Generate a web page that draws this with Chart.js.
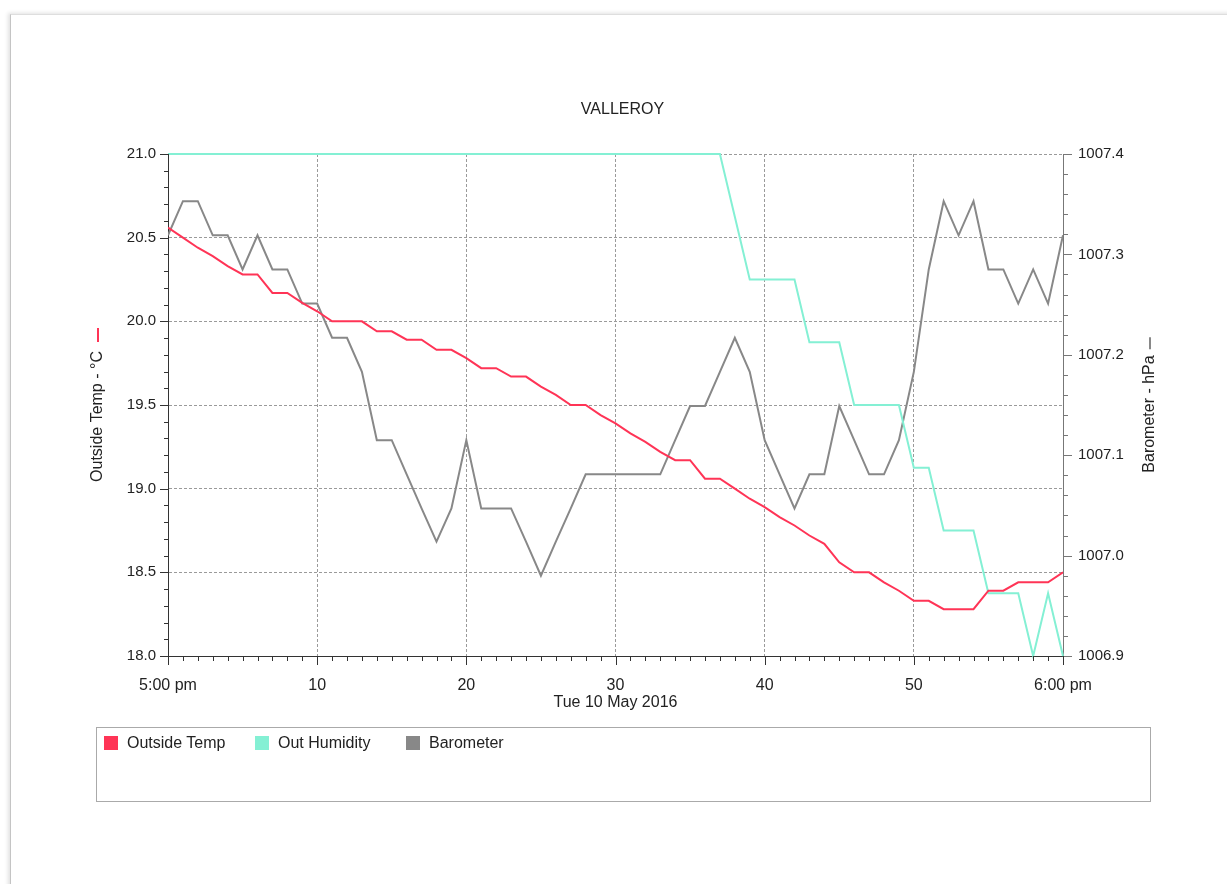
<!DOCTYPE html>
<html>
<head>
<meta charset="utf-8">
<script src="https://cdn.jsdelivr.net/npm/chart.js@4.4.0/dist/chart.umd.min.js"></script>
<style>
html,body{margin:0;padding:0;background:#fff;width:1227px;height:884px;overflow:hidden;font-family:"Liberation Sans",Arial,sans-serif;}
#frame{position:absolute;left:10px;top:14px;width:1400px;height:1000px;border-left:1px solid #c4c4c4;border-top:1px solid #dedede;box-shadow:-2px -1px 4px rgba(0,0,0,0.12);}
#c{position:absolute;left:0;top:0;}
#legend{position:absolute;left:96px;top:727px;width:1055px;height:75px;border:1px solid #aaa;box-sizing:border-box;}
.item{position:absolute;top:7px;height:16px;line-height:16px;font-size:16px;color:#222;white-space:nowrap;}
.sw{display:inline-block;width:14px;height:14px;vertical-align:top;margin-top:1px;margin-right:9px;}
</style>
</head>
<body>
<div id="frame"></div>
<canvas id="c" width="1227" height="884"></canvas>
<div id="legend"></div>
<script>
// ---- data (one point per minute, 5:00 pm -> 6:00 pm) ----
const chartTitle = 'VALLEROY';
const xTitle = 'Tue 10 May 2016';
const yTitleLeft = 'Outside Temp - \u00B0C';
const yTitleRight = 'Barometer - hPa';

const minutes = [0,1,2,3,4,5,6,7,8,9,10,11,12,13,14,15,16,17,18,19,20,21,22,23,24,25,26,27,28,29,30,
                 31,32,33,34,35,36,37,38,39,40,41,42,43,44,45,46,47,48,49,50,51,52,53,54,55,56,57,58,59,60];

const xTickValues = [0,10,20,30,40,50,60];
const xTickLabels = ['5:00 pm','10','20','30','40','50','6:00 pm'];

const seriesNames = ['Outside Temp','Out Humidity','Barometer'];
const seriesColors = ['#ff3456','#84f0d4','#888888'];

const outsideTemp = [20.56,20.50,20.44,20.39,20.33,20.28,20.28,20.17,20.17,20.11,
                     20.06,20.00,20.00,20.00,19.94,19.94,19.89,19.89,19.83,19.83,
                     19.78,19.72,19.72,19.67,19.67,19.61,19.56,19.50,19.50,19.44,
                     19.39,19.33,19.28,19.22,19.17,19.17,19.06,19.06,19.00,18.94,
                     18.89,18.83,18.78,18.72,18.67,18.56,18.50,18.50,18.44,18.39,
                     18.33,18.33,18.28,18.28,18.28,18.39,18.39,18.44,18.44,18.44,18.50];

const outHumidity = [80,80,80,80,80,80,80,80,80,80,
                     80,80,80,80,80,80,80,80,80,80,
                     80,80,80,80,80,80,80,80,80,80,
                     80,80,80,80,80,80,80,80,79,78,
                     78,78,78,77,77,77,76,76,76,76,
                     75,75,74,74,74,73,73,73,72,73,72];

const barometer = [1007.319,1007.353,1007.353,1007.319,1007.319,1007.285,1007.319,1007.285,1007.285,1007.251,
                   1007.251,1007.217,1007.217,1007.183,1007.115,1007.115,1007.081,1007.047,1007.014,1007.047,
                   1007.115,1007.047,1007.047,1007.047,1007.014,1006.980,1007.014,1007.047,1007.081,1007.081,
                   1007.081,1007.081,1007.081,1007.081,1007.115,1007.149,1007.149,1007.183,1007.217,1007.183,
                   1007.115,1007.081,1007.047,1007.081,1007.081,1007.149,1007.115,1007.081,1007.081,1007.115,
                   1007.183,1007.285,1007.353,1007.319,1007.353,1007.285,1007.285,1007.251,1007.285,1007.251,1007.319];

const toPoints = (vals) => minutes.map((m, i) => ({x: m, y: vals[i]}));

const FONT = '"Liberation Sans", Arial, sans-serif';
Chart.defaults.font.family = FONT;
Chart.defaults.color = '#222';

// minor ticks + rotated axis titles with series marker
const decor = {
  id: 'decor',
  afterDraw(chart) {
    const {ctx, chartArea: ca, scales} = chart;
    ctx.save();
    ctx.lineWidth = 1;
    const sub = (scale, n, cb) => {
      const t = scale.ticks.map(k => k.value);
      for (let i = 0; i < t.length; i++) {
        cb(t[i], true);
        if (i < t.length - 1) {
          for (let j = 1; j < n; j++) cb(t[i] + (t[i + 1] - t[i]) * j / n, false);
        }
      }
    };
    // left axis
    ctx.strokeStyle = '#333';
    sub(scales.y, 5, (v, major) => {
      const py = Math.round(scales.y.getPixelForValue(v)) + 0.5;
      const len = major ? 8 : 4;
      ctx.beginPath(); ctx.moveTo(ca.left - len, py); ctx.lineTo(ca.left + (major ? 1 : 0), py); ctx.stroke();
    });
    // right axis
    ctx.strokeStyle = '#777';
    sub(scales.y2, 5, (v, major) => {
      const py = Math.round(scales.y2.getPixelForValue(v)) + 0.5;
      const len = major ? 9 : 5;
      ctx.beginPath(); ctx.moveTo(ca.right, py); ctx.lineTo(ca.right + len, py); ctx.stroke();
    });
    // x axis
    ctx.strokeStyle = '#333';
    sub(scales.x, 10, (v, major) => {
      const px = Math.round(scales.x.getPixelForValue(v)) + 0.5;
      const len = major ? 9 : 5;
      ctx.beginPath(); ctx.moveTo(px, ca.bottom); ctx.lineTo(px, ca.bottom + len); ctx.stroke();
    });

    // rotated axis titles
    ctx.font = '16px ' + FONT;
    ctx.fillStyle = '#222';
    ctx.textAlign = 'center';
    ctx.textBaseline = 'middle';
    const midY = (ca.top + ca.bottom) / 2;
    const drawTitle = (cx, text, color, gap, dash) => {
      const w = ctx.measureText(text).width;
      const textC = midY + (gap + dash) / 2;
      ctx.save();
      ctx.translate(cx, textC);
      ctx.rotate(-Math.PI / 2);
      ctx.fillText(text, 0, 0);
      ctx.restore();
      const top = textC - w / 2 - gap;
      ctx.save();
      ctx.strokeStyle = color;
      ctx.lineWidth = 2;
      ctx.beginPath(); ctx.moveTo(cx, top); ctx.lineTo(cx, top - dash); ctx.stroke();
      ctx.restore();
    };
    drawTitle(ca.left - 70, yTitleLeft, seriesColors[0], 9, 14);
    drawTitle(ca.right + 87, yTitleRight, seriesColors[2], 6, 12);
    ctx.restore();
  }
};

const gridDash = [3, 2];

const chart = new Chart(document.getElementById('c'), {
  type: 'line',
  data: {
    datasets: [
      {label: seriesNames[0], data: toPoints(outsideTemp), borderColor: seriesColors[0], backgroundColor: seriesColors[0], yAxisID: 'y'},
      {label: seriesNames[1], data: toPoints(outHumidity), borderColor: seriesColors[1], backgroundColor: seriesColors[1], yAxisID: 'yH', clip: 3},
      {label: seriesNames[2], data: toPoints(barometer), borderColor: seriesColors[2], backgroundColor: seriesColors[2], yAxisID: 'y2'}
    ]
  },
  options: {
    responsive: false,
    animation: false,
    devicePixelRatio: 1,
    layout: {padding: {left: 82, right: 64, top: 0, bottom: 168}},
    elements: {
      line: {borderWidth: 2, tension: 0, fill: false},
      point: {radius: 0, hoverRadius: 0}
    },
    plugins: {
      legend: {display: false},
      tooltip: {enabled: false},
      title: {
        display: true, text: chartTitle, color: '#222',
        font: {size: 16, weight: 'normal'},
        padding: {top: 100.4, bottom: 34.4}
      }
    },
    scales: {
      x: {
        type: 'linear', min: 0, max: 60,
        afterFit: (s) => { s.height = 60; },
        afterBuildTicks: (s) => { s.ticks = xTickValues.map(v => ({value: v})); },
        ticks: {
          autoSkip: false, maxRotation: 0, padding: 20, color: '#222',
          font: {size: 16},
          callback: (v) => { const i = xTickValues.indexOf(v); return i >= 0 ? xTickLabels[i] : ''; }
        },
        grid: {drawTicks: false, color: (c) => (c.tick && c.tick.value === 0) ? 'rgba(0,0,0,0)' : '#9a9a9a', lineWidth: 1},
        border: {display: true, color: '#333', width: 1, dash: gridDash},
        title: {display: true, text: xTitle, color: '#222', font: {size: 16}, padding: {top: 0, bottom: 3.4}}
      },
      y: {
        type: 'linear', position: 'left', min: 18.0, max: 21.0,
        afterFit: (s) => { s.width = 86; },
        ticks: {stepSize: 0.5, padding: 12, color: '#222', font: {size: 15}, callback: (v) => Number(v).toFixed(1)},
        grid: {drawTicks: false, color: (c) => (c.tick && c.tick.value === 18) ? 'rgba(0,0,0,0)' : '#9a9a9a', lineWidth: 1},
        border: {display: true, color: '#333', width: 1, dash: gridDash},
        title: {display: false}
      },
      y2: {
        type: 'linear', position: 'right', min: 1006.9, max: 1007.4,
        afterFit: (s) => { s.width = 100; },
        ticks: {stepSize: 0.1, padding: 15, color: '#222', font: {size: 15}, callback: (v) => Number(v).toFixed(1)},
        grid: {drawTicks: false, drawOnChartArea: false},
        border: {display: true, color: '#777', width: 1},
        title: {display: false}
      },
      yH: {
        type: 'linear', display: false, min: 72, max: 80
      }
    }
  },
  plugins: [decor]
});

// HTML legend built from the chart's datasets
const legend = document.getElementById('legend');
chart.data.datasets.forEach((ds, i) => {
  const it = document.createElement('div');
  it.className = 'item';
  it.style.left = (7 + 151 * i) + 'px';
  const sw = document.createElement('span');
  sw.className = 'sw';
  sw.style.background = ds.borderColor;
  it.appendChild(sw);
  it.appendChild(document.createTextNode(ds.label));
  legend.appendChild(it);
});
</script>
</body>
</html>
